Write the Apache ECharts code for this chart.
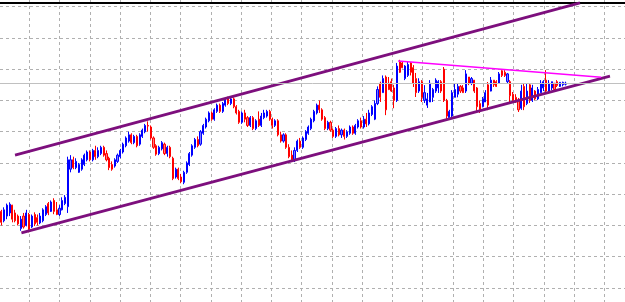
<!DOCTYPE html>
<html>
<head>
<meta charset="utf-8">
<script src="https://cdn.jsdelivr.net/npm/echarts@6/dist/echarts.min.js"></script>
<style>
html, body { margin: 0; padding: 0; background: #fff; }
#main { width: 625px; height: 302px; }
</style>
</head>
<body>
<div id="main"></div>
<script>
// candles: [open, close, low, high]
var candles = [
  [34.5,31,30,35],[31.5,35,31,35.8],[33,36.5,32,37],[34,36.8,33,37.4],[36.5,32,31,36.6],
  [34,31.5,31,35],[33,30.5,30,33.5],[29,32,28.3,33],[33,29.5,29,34],[30,34,29.7,35],
  [33.5,28.8,27.8,34],[29.5,33,29.2,33.5],[33.5,30.5,29.8,34.2],[32.5,31,30,33.5],[30.8,33,30.4,34],
  [31.5,35,31,35.5],[33.5,36,33,36.5],[37,34,33.3,37.5],[34.5,37.5,34.3,38],[38,34.5,33.6,38.7],
  [35,33.5,33.3,37.5],[33.5,35.5,33,36.5],[35,38,34.8,39],[37,39,36.5,39.7],[36,51,34,52],
  [48,51,47,52.5],[51,48.5,48,52],[48.5,50.5,48,51.5],[47,49.5,46.8,50],[48,51,47.5,51.5],
  [49.5,52.5,49,53],[51,53.5,50.5,54],[53.5,51,50.5,54],[51,54,50.5,54.5],[54,52,51,55.5],
  [52,54,51.5,55],[53,55,52.5,55.5],[55,52.5,52,55.5],[53,51,50.5,54],[51.5,48.5,47.7,52],
  [49.5,48,47.5,50.5],[49,51,48.5,51.5],[50.5,52.5,50,53],[52,54,51.5,54.5],[53.5,56,53,56.5],
  [55.5,58,55,58.5],[57,59,56.5,60],[59,56.5,56,59.5],[56.5,58.5,56,59],[58.5,55.5,55,59],
  [56,59,55.5,59.5],[58.5,60.5,58,61],[60,62,59.5,62.5],[62,61.8,60,63.3],[61.5,58,57.5,62],
  [58,55,54.5,58.5],[55.5,52.8,52.3,56],[53,55,52.5,55.5],[54.5,56.5,54,57],[56,53,52.5,56.5],
  [53,55,52,55.5],[55,52,51.5,55.5],[51.5,45,44.5,52],[45.5,48,45,48.5],[48,45,44.5,48.5],
  [45.5,44,43.5,46.5],[43.8,47,43.2,47.5],[47,50,46.5,50.5],[49.5,53,49,53.5],[52.5,55.5,52,56],
  [55,57.5,54.5,58],[57.5,55.5,55,58.5],[56,60,55.5,60.5],[59.5,62,59,62.5],[61.5,64,61,64.5],
  [63.5,66,63,66.5],[66,64,63.5,66.5],[64,67,63.5,67.5],[66.5,68.5,66,69],[68.5,66.5,66,69],
  [66.5,69,66,69.5],[68.5,70.5,68,71],[70.5,69,68.5,71.2],[69,70.5,68.5,71.3],[70.5,68,67.5,71],
  [68,66,65.5,68.5],[66.5,63,62.5,67],[63,66,62.5,66.5],[66,64,63,67],[64.5,62,61.5,65],
  [62,64.5,61.5,65],[64.5,61,60.5,65],[61,63.5,60.5,64],[64,62,61.5,66.5],[62,65,61.5,66],
  [64.5,66,64,67],[65,66.5,64.5,67],[66.5,64,63.5,67],[64,62,61,64.5],[62,63.5,61.5,64],
  [63.5,59,58.5,64],[59,57,56.5,60],[57,59,56.5,59.5],[59,55,54.5,59.5],[55,52,51.5,56],
  [52.5,51,50.3,54],[51,54,50.3,55],[54,57,53.5,57.5],[57,55,54.5,58],[55,58,54.5,58.5],
  [57.5,60,57,60.5],[59.5,61.5,59,62],[61,64,60.5,64.5],[63.5,66.5,63,67],[66,68.5,65.5,69],
  [68.5,67,66,70],[67,64,63.5,67.5],[64.5,61,60.5,65],[61,63,60.5,63.5],[63,60.5,60,63.5],
  [60.5,58.5,58,61],[58.5,61,58,61.5],[61,59,58.5,62],[59,60.5,58,61],[60.5,58.5,57.5,61],
  [58.5,60,58,60.5],[59.5,61.5,59,62],[61.5,59.5,59,62],[59.5,62,59,62.5],[61.5,63.5,61,64],
  [63.5,61.5,61,64.5],[61.5,64,61,65],[64,62.5,61.5,66],[62.5,66,62,67],[65.5,68,65,68.5],
  [64,69,63.7,70],[69,73.5,68.5,74.5],[75.5,71,69.5,76],[72.5,77,72.5,78],[77.5,67,65.3,78],
  [75.5,73.5,73.3,77.5],[76,73,72.7,77],[74,70,67.5,75],[70,81,69.5,82],[82.5,79,78.8,83],
  [82,80.5,80.3,82.4],[77,81,76.5,81.3],[78,81.5,77.5,82.3],[82,79,78,82.3],[80.5,75.5,74.3,81.3],
  [77,72.5,71.1,78.8],[73,76,72.4,77.1],[76,71,69.5,76.5],[70,72.5,69.2,74.9],[68.5,70.5,67.6,72.4],
  [69.5,75.5,69.5,76.5],[71,73.5,69.5,74],[73,76.5,72.4,77.1],[74,76,72.4,76.5],[76,73,72.4,76.5],
  [80,70,69.5,80.7],[70,65,63.7,70.5],[64.5,66.5,64.5,67],[65,72.5,64.7,73.3],[71,73.5,71,75.5],
  [72,74.5,71,75.5],[74.5,73,72.4,74.9],[74,72.5,72.4,74.9],[73,78.5,72.4,79.7],[77.5,75.5,74.9,77.5],
  [75.5,77,74.9,77.5],[76.5,73,72.4,76.5],[74,68,66,74.3],[69,67,66,70],[68,70.5,67.8,71.1],
  [69.5,72.5,69.5,73.3],[75,68.5,66.9,75.9],[73,76.5,72.9,77.5],[76.5,75,74.3,76.5],[76,74.5,74.3,76.5],
  [75.5,78.5,75.5,79.1],[79.5,78,77.5,79.7],[79,78,77.5,79.7],[76,78.5,75.5,78.8],[76,71.5,69.5,76.5],
  [72,70,69.2,72.7],[71,69.5,69.2,72],[70,67,66.3,70.8],[67.5,73,67,75],[74.5,68,66.9,75.5],
  [69,73,68.5,75.5],[75,70,69.2,75.5],[70,74,69.5,75],[73,70.5,70.1,73.3],[70.5,73.5,70.1,74.3],
  [72.5,75.5,72.4,76.5],[74,76,73,76.5],[76.5,73,72.7,79.7],[73,75.5,72.4,76.5],[74,76,73.3,76],
  [75.5,73.5,72.7,75.5],[76,74.8,74.3,76.5],[74.5,75.8,74.3,75.9],[75,75.8,74.5,76],[75.2,75.5,74.8,76]
];
var slotCount = 226;          // bar slots on the time axis (chart shift leaves the right part empty)
var lastPrice = 75.5;         // current price line

// trend lines: [time position (grid columns), price]
var upperChannel = [[0.53, 52.5], [19.2, 101.2]];
var lowerChannel = [[0.74, 27.6], [20.19, 77.8]];
var triangleTop  = [[13.19, 82.6], [19.9, 77.4]];

// visible window of the chart
var priceMin = 5.5, priceMax = 102.14;
var timeMin = 0.033, timeMax = 20.687;

var slots = [];
for (var i = 0; i < slotCount; i++) slots.push(String(i));

var dom = document.getElementById("main");
var myChart = echarts.init(dom);

var dash = { color: '#b0b0b0', type: [3, 3], width: 1 };
var hidden = { axisLine: { show: false }, axisTick: { show: false }, axisLabel: { show: false } };

var option = {
  animation: false,
  backgroundColor: '#fff',
  grid: [
    { left: 0, right: 0, top: 0, bottom: 0 },        // data
    { left: 0, right: 0, top: 6.7, bottom: 14 },     // horizontal grid lines
    { left: 29.3, right: 20.7, top: 0, bottom: 0 }   // vertical grid lines
  ],
  xAxis: [
    Object.assign({ type: 'category', gridIndex: 0, data: slots, boundaryGap: true, splitLine: { show: false } }, hidden),
    Object.assign({ type: 'value', gridIndex: 0, min: timeMin, max: timeMax, splitLine: { show: false } }, hidden),
    Object.assign({ type: 'value', gridIndex: 1, position: 'top', offset: 4, min: 0, max: 1, splitLine: { show: false } }, hidden,
      { axisLine: { show: true, lineStyle: { color: '#000', width: 2 } } }),
    Object.assign({ type: 'value', gridIndex: 2, min: 1, max: 20, interval: 1, splitLine: { show: true, lineStyle: dash } }, hidden)
  ],
  yAxis: [
    Object.assign({ type: 'value', gridIndex: 0, min: priceMin, max: priceMax, splitLine: { show: false } }, hidden),
    Object.assign({ type: 'value', gridIndex: 1, min: 10, max: 100, interval: 10, splitLine: { show: true, lineStyle: dash } }, hidden),
    Object.assign({ type: 'value', gridIndex: 2, min: 0, max: 1, splitLine: { show: false } }, hidden)
  ],
  series: [{
    type: 'candlestick',
    xAxisIndex: 0, yAxisIndex: 0,
    data: candles,
    barWidth: 1.6,
    itemStyle: {
      color: '#7a7aff', color0: '#ff7a7a',
      borderColor: '#0000ff', borderColor0: '#ff0000',
      borderWidth: 1
    },
    markLine: {
      silent: true,
      symbol: 'none',
      label: { show: false },
      lineStyle: { color: '#c0c0c0', type: 'solid', width: 1 },
      data: [{ yAxis: lastPrice }]
    }
  }, {
    type: 'line', xAxisIndex: 1, yAxisIndex: 0, data: upperChannel, clip: false,
    symbol: 'none', lineStyle: { color: '#7d0f7d', width: 2.8 }
  }, {
    type: 'line', xAxisIndex: 1, yAxisIndex: 0, data: lowerChannel, clip: false,
    symbol: 'none', lineStyle: { color: '#7d0f7d', width: 2.8 }
  }, {
    type: 'line', xAxisIndex: 1, yAxisIndex: 0, data: triangleTop, clip: false,
    symbol: 'none', lineStyle: { color: '#ff00ff', width: 1.5 }
  }]
};

myChart.setOption(option);
</script>
</body>
</html>
